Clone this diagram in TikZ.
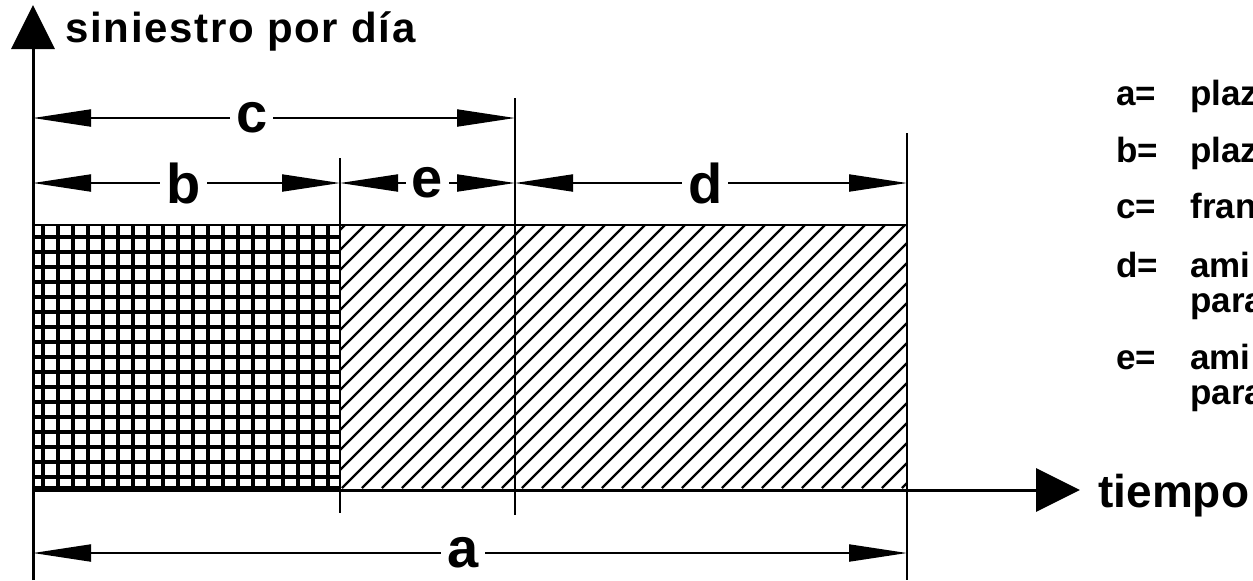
\documentclass[tikz,border=0pt]{standalone}
\usepackage{fontspec}
\setmainfont{Liberation Sans}
\newfontfamily\widesans{Liberation Sans}[LetterSpace=4]
\usetikzlibrary{arrows.meta}
\tikzset{
 every node/.style={font=\bfseries,text=black},
 axisln/.style={line width=1.5pt,-{Triangle[length=22pt,width=21.5pt]}},
 extln/.style={line width=1pt},
 dim/.style={line width=1pt,{Triangle[length=29pt,width=8.5pt]}-{Triangle[length=29pt,width=8.5pt]}},
 dimlab/.style={fill=white,inner xsep=3pt,inner ysep=0pt,font=\bfseries\fontsize{28}{28}\selectfont},
 gridln/.style={line width=1.6pt},
 hatchln/.style={line width=1.2pt},
 key/.style={anchor=base west,inner sep=0pt,font=\bfseries\fontsize{17.5}{17.5}\selectfont},
 }

\begin{document}
\begin{tikzpicture}[x=.5pt,y=-.5pt]
 \useasboundingbox(0,0)rectangle(1253,580);
 \clip(0,0)rectangle(1253,580);
 % crossed part (b)
 \begin{scope}
  \clip(33,225)rectangle(340,488);
  \foreach \x in {43,58,...,328}\draw[gridln](\x,225)--(\x,488);
  \foreach \y in {237,252,...,477}\draw[gridln](33,\y)--(340,\y);
 \end{scope}
 % hatched part (e+d)
 \begin{scope}
  \clip(340,225)rectangle(907,488);
  \foreach \x in {82,102,...,902}\draw[hatchln](\x,488)--++(263,-263);
 \end{scope}
 \draw[extln](33,225)--(907,225);
 \draw[line width=2.5pt](33,488)--(340,488);
 % axes
 \coordinate(o)at(33,490);
 \coordinate(ytip)at(33,5);
 \coordinate(xtip)at(1080,490);
 \draw[axisln](33,580)--(ytip);
 \draw[axisln](o)--(xtip);
 \node[anchor=base west,inner sep=0pt,font=\widesans\bfseries\fontsize{21}{21}\selectfont](ylab)at(65,42){siniestro por día};
 \node[anchor=base west,inner sep=0pt,font=\bfseries\fontsize{23}{23}\selectfont](xlab)at(1098,507){tiempo};
 % extension lines
 \draw[extln](340,158)--(340,513);
 \draw[extln](515,98)--(515,515);
 \draw[extln](907,133)--(907,580);
 % dimensions
 \coordinate(c0)at(33,118);\coordinate(c1)at(515,118);
 \coordinate(b0)at(33,183);\coordinate(b1)at(340,183);
 \coordinate(e1)at(515,183);\coordinate(d1)at(907,183);
 \coordinate(a0)at(33,553);\coordinate(a1)at(907,553);
 \draw[dim](c0)--(c1)node[dimlab,pos=.454](c){c};
 \draw[dim](b0)--(b1)node[dimlab,pos=.49](b){b};
 \draw[dim](b1)--(e1)node[dimlab,pos=.5](e){e};
 \draw[dim](e1)--(d1)node[dimlab,pos=.485](d){d};
 \draw[dim](a0)--(a1)node[dimlab,pos=.492](a){a};
 % legend
 \node[key](ka)at(1116,105){\makebox[37pt][l]{a=}plaz};
 \node[key](kb)at(1116,162){\makebox[37pt][l]{b=}plaz};
 \node[key](kc)at(1116,218){\makebox[37pt][l]{c=}fran};
 \node[key](kd)at(1116,277){\makebox[37pt][l]{d=}ami};
 \node[key](kd2)at(1116,312){\makebox[37pt][l]{}para};
 \node[key](ke)at(1116,369){\makebox[37pt][l]{e=}ami};
 \node[key](ke2)at(1116,404){\makebox[37pt][l]{}para};
\end{tikzpicture}
\end{document}
